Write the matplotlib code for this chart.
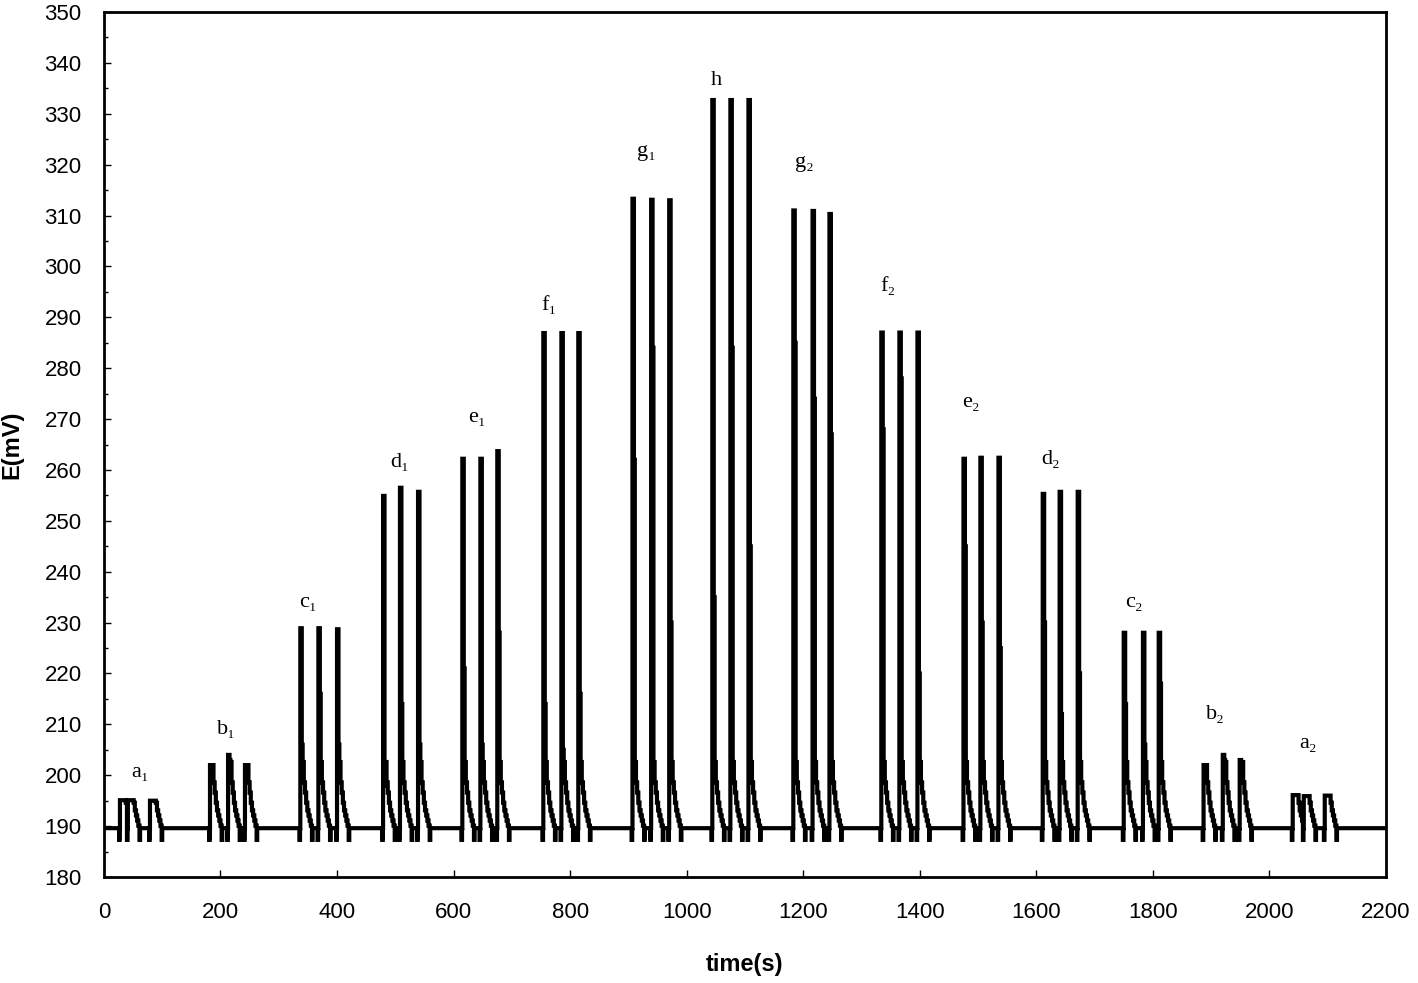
import numpy as np
import matplotlib.pyplot as plt
from matplotlib.ticker import MultipleLocator

plt.rcParams['font.family'] = ['Liberation Sans', 'DejaVu Sans']

# baseline potential (mV)
base = 189.6

# injection peaks: start time (s), top (mV), level after the first drop (mV)
peak_t = [27.5, 41, 79,
          182, 213, 242,
          337, 368, 400,
          479, 508, 539,
          615, 646, 675,
          754, 785, 814,
          907, 939, 970,
          1044, 1075, 1106,
          1183, 1216, 1245,
          1334, 1365, 1396,
          1475, 1504, 1535,
          1611, 1640, 1671,
          1750, 1783, 1810,
          1887, 1920, 1949,
          2040, 2059, 2095]
peak_top = [195.1, 195.1, 195.0,
            202.0, 204.0, 202.0,
            228.9, 228.9, 228.7,
            254.9, 256.5, 255.7,
            262.2, 262.2, 263.7,
            286.9, 286.9, 286.9,
            313.3, 313.1, 313.0,
            332.7, 332.7, 332.7,
            311.0, 310.9, 310.3,
            287.0, 287.0, 287.0,
            262.2, 262.4, 262.4,
            255.3, 255.7, 255.7,
            228.0, 228.0, 228.0,
            202.0, 204.0, 203.0,
            196.1, 195.9, 196.0]
peak_mid = [195.1, 195.1, 195.0,
            201.0, 203.0, 201.0,
            206, 216, 206,
            198, 214, 206,
            221, 206, 228,
            214, 205, 216,
            262, 284, 230,
            235, 284, 245,
            285, 274, 267,
            268, 278, 220,
            245, 230, 225,
            230, 212, 220,
            214, 206, 218,
            201.0, 203.0, 202.0,
            196.1, 195.9, 196.0]

# shared staircase tail after each peak: seconds after start, mV above baseline
tail_dt = [4, 6, 8, 10, 12, 14, 16, 18, 20]
tail_mv = [13, 9, 7, 5, 3.5, 2.5, 1.5, 0.5, -2.3]

# group labels
label_names = ['a₁', 'b₁', 'c₁', 'd₁', 'e₁', 'f₁', 'g₁', 'h',
               'g₂', 'f₂', 'e₂', 'd₂', 'c₂', 'b₂', 'a₂']
label_t = [62, 210, 350, 508, 641, 764, 931, 1051,
           1202, 1345, 1487, 1625, 1767, 1908, 2066]
label_v = [200.6, 208.9, 233.9, 261.4, 270.4, 292.4, 322.5, 336.6,
           320.5, 296.0, 273.2, 262.0, 234.0, 212.0, 206.3]

t_end = 2196

# build the trace vertex by vertex
t_pts = [0.0]
e_pts = [base]
n = len(peak_t)
for i in range(n):
    t0, top, mid = peak_t[i], peak_top[i], peak_mid[i]
    t_next = peak_t[i + 1] - 1.5 if i + 1 < n else t_end
    seg = [(t0 - 1.5, base - 2.3), (t0 - 0.5, base), (t0, top), (t0 + 2.5, mid)]
    for dt, mv in zip(tail_dt, tail_mv):
        seg.append((t0 + dt, base + (min(mv, top - base) if mv > 0 else mv)))
    seg.append((t0 + 21, base))
    for tt, ee in seg:
        if tt < t_next:
            t_pts.append(tt)
            e_pts.append(ee)
t_pts.append(t_end)
e_pts.append(base)

fig = plt.figure(figsize=(14.18, 9.83), dpi=100)
ax = fig.add_axes([0.0733, 0.1078, 0.9041, 0.88])

ax.plot(t_pts, e_pts, color='black', lw=3, drawstyle='steps-post',
        solid_joinstyle='miter')

for name, tx, ty in zip(label_names, label_t, label_v):
    ax.text(tx, ty, name, family=['Liberation Serif', 'DejaVu Serif'],
            fontsize=16, ha='center', va='center')

ax.set_xlim(0, 2200)
ax.set_ylim(180, 350)
ax.set_xticks(np.arange(0, 2201, 200))
ax.set_yticks(np.arange(180, 351, 10))
ax.yaxis.set_minor_locator(MultipleLocator(5))
ax.tick_params(axis='both', which='major', direction='in', length=5, width=1,
               labelsize=16)
ax.tick_params(axis='y', which='major', pad=16)
ax.tick_params(axis='x', which='major', pad=18)
ax.tick_params(axis='y', which='minor', direction='in', length=3, width=1)

for sp in ax.spines.values():
    sp.set_linewidth(2)

ax.set_xlabel('time(s)', fontsize=17, fontweight='bold')
ax.set_ylabel('E(mV)', fontsize=17, fontweight='bold')
ax.xaxis.set_label_coords(0.5, -0.088)
ax.yaxis.set_label_coords(-0.063, 0.5)

fig.savefig('out.png', dpi=100)
